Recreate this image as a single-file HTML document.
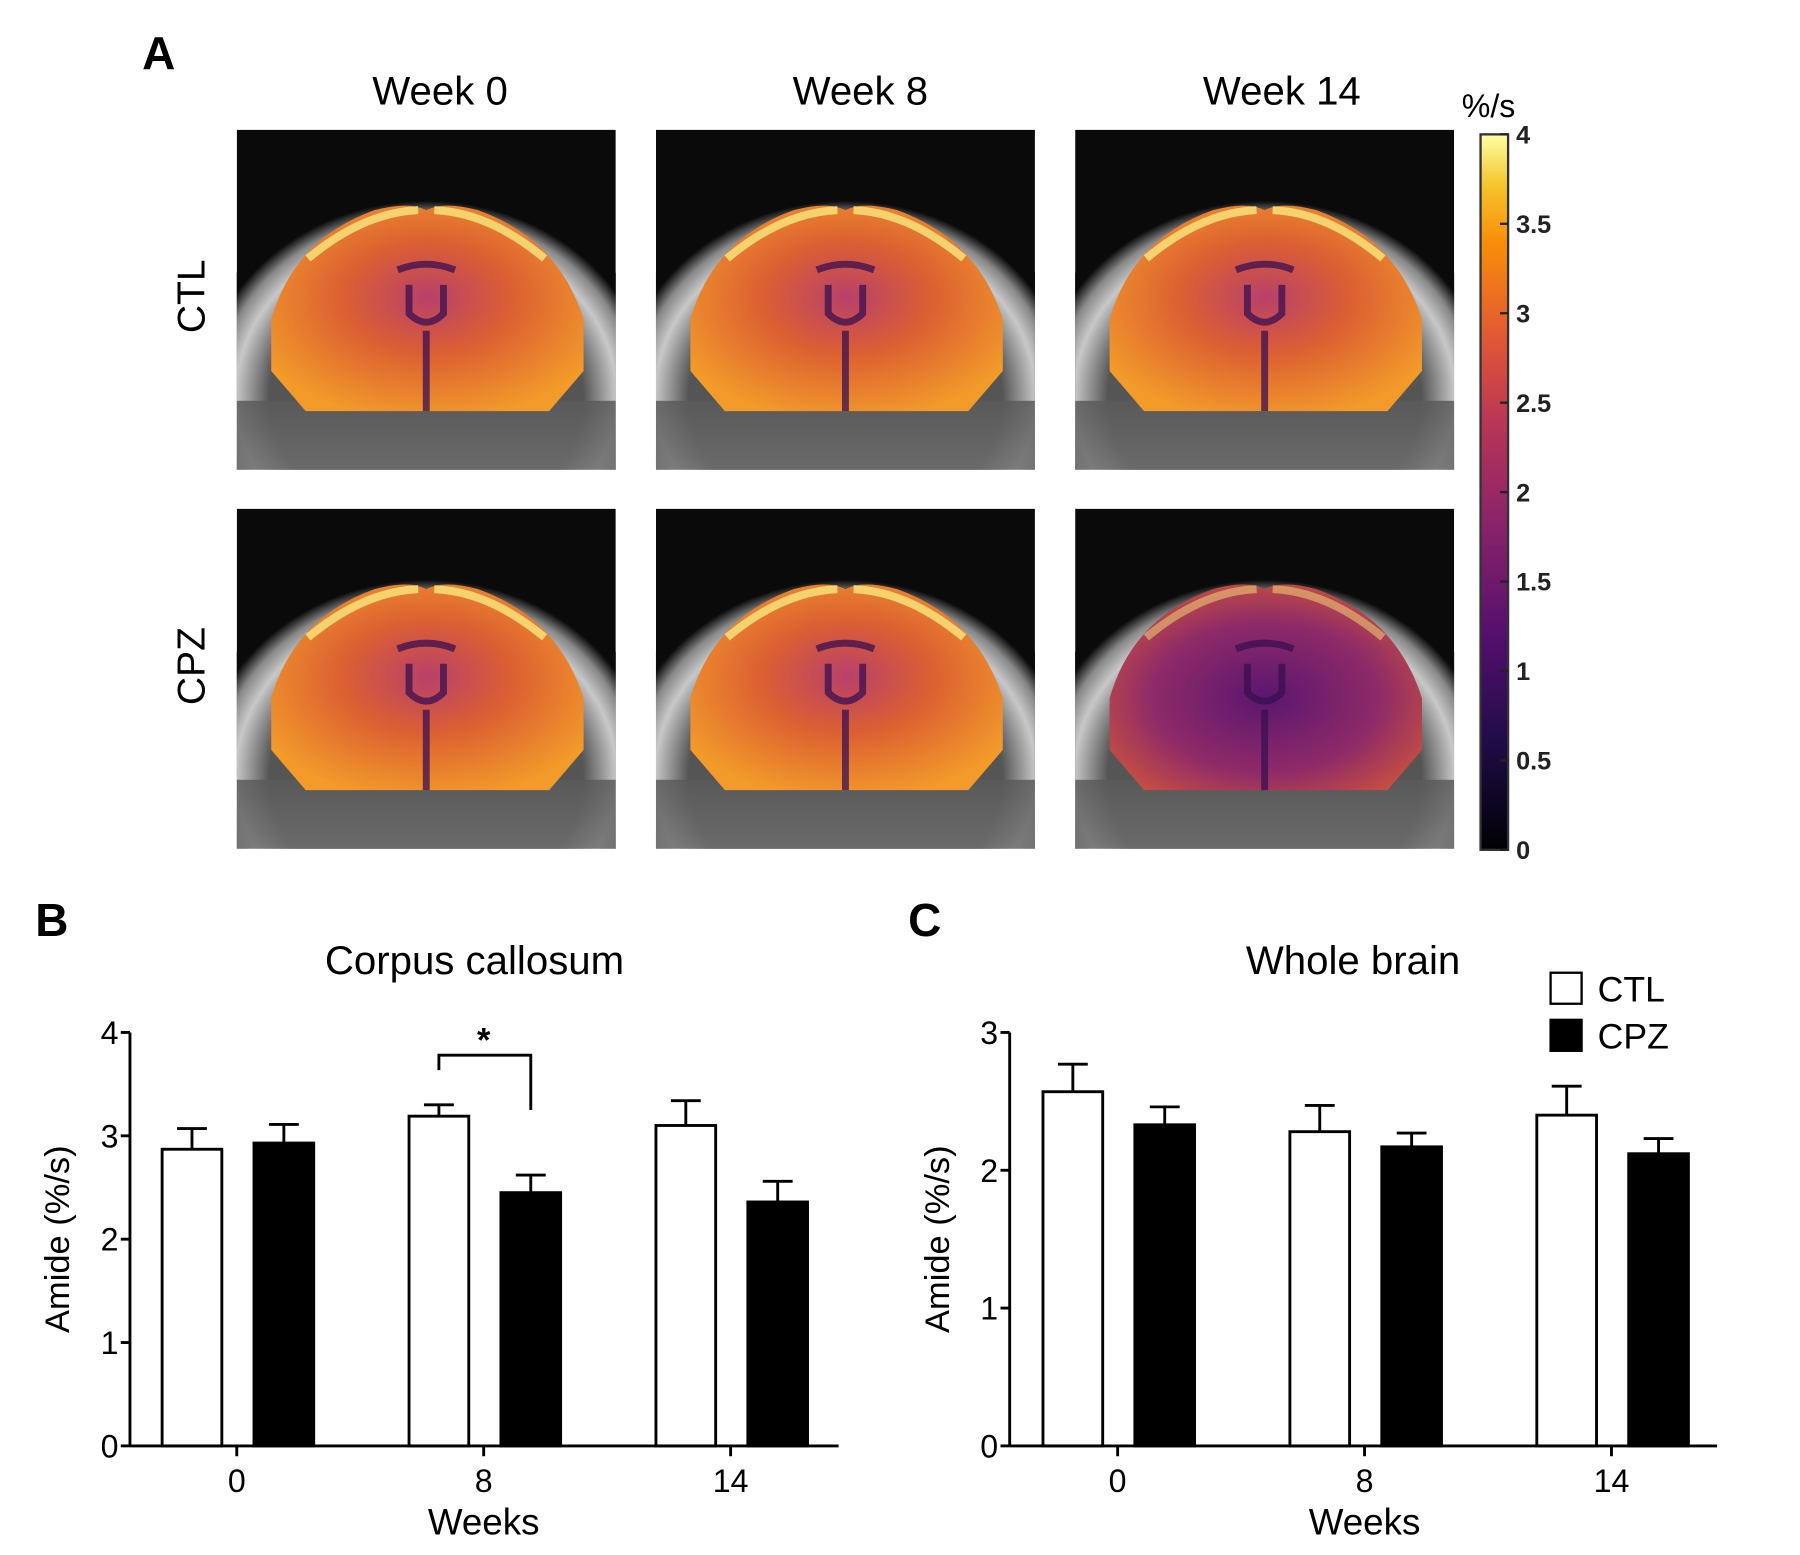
<!DOCTYPE html>
<html><head><meta charset="utf-8"><style>
html,body{margin:0;padding:0;background:#fff}
svg{display:block;font-family:"Liberation Sans",Arial,sans-serif}
</style></head><body>
<svg id="fig" width="1800" height="1555" viewBox="0 0 1567 1354" xmlns="http://www.w3.org/2000/svg">
<defs>
<linearGradient id="cbar" x1="0" y1="1" x2="0" y2="0">
<stop offset="0" stop-color="#000004"/><stop offset="0.15" stop-color="#1f0c48"/><stop offset="0.3" stop-color="#550f6d"/><stop offset="0.45" stop-color="#88226a"/><stop offset="0.6" stop-color="#ba3655"/><stop offset="0.72" stop-color="#e35933"/><stop offset="0.85" stop-color="#f98e09"/><stop offset="0.93" stop-color="#f6c52d"/><stop offset="1" stop-color="#fcffa4"/>
</linearGradient>
<radialGradient id="skull" cx="0.5" cy="0.55" r="0.5">
<stop offset="0.7" stop-color="#555"/><stop offset="0.85" stop-color="#c8c8c8"/><stop offset="0.93" stop-color="#888"/><stop offset="1" stop-color="#0a0a0a"/>
</radialGradient>
<linearGradient id="lower" x1="0" y1="0" x2="0" y2="1">
<stop offset="0" stop-color="#5a5a5a"/><stop offset="1" stop-color="#6e6e6e"/>
</linearGradient>
<radialGradient id="brainA" cx="0.5" cy="0.45" r="0.6">
<stop offset="0" stop-color="#b8406a"/><stop offset="0.45" stop-color="#dc5f32"/><stop offset="1" stop-color="#f29a2a"/>
</radialGradient>
<radialGradient id="brainB" cx="0.5" cy="0.55" r="0.6">
<stop offset="0" stop-color="#5a1670"/><stop offset="0.6" stop-color="#8e2a68"/><stop offset="1" stop-color="#c85040"/>
</radialGradient>
<clipPath id="pclip"><rect x="0" y="0" width="330" height="296"/></clipPath>
</defs>
<text x="138" y="60" font-size="40" font-weight="bold" text-anchor="middle">A</text>
<g id="panelA"></g>
<text x="383" y="91" font-size="35" text-anchor="middle">Week 0</text>
<text x="749" y="91" font-size="35" text-anchor="middle">Week 8</text>
<text x="1116" y="91" font-size="35" text-anchor="middle">Week 14</text>
<text transform="translate(178,258) rotate(-90)" font-size="34" text-anchor="middle">CTL</text>
<text transform="translate(178,580) rotate(-90)" font-size="34" text-anchor="middle">CPZ</text>
<g>
<rect x="1289" y="117" width="24" height="623" fill="url(#cbar)" stroke="#333" stroke-width="2"/>
<text x="1296" y="102" font-size="28" text-anchor="middle">%/s</text>
<g id="cbticks"></g>
</g>
<text x="45" y="815" font-size="40" font-weight="bold" text-anchor="middle">B</text>
<text x="805" y="815" font-size="40" font-weight="bold" text-anchor="middle">C</text>
<g id="chartB"></g>
<g id="chartC"></g>
<g>
<rect x="1350" y="847" width="27" height="27" fill="#fff" stroke="#000" stroke-width="2"/>
<text x="1391" y="872" font-size="31">CTL</text>
<rect x="1350" y="888" width="27" height="27" fill="#000" stroke="#000" stroke-width="2"/>
<text x="1391" y="913" font-size="31">CPZ</text>
</g>
</svg>
<script>
const NS="http://www.w3.org/2000/svg";
// colorbar
const cbTicks=[0,0.5,1,1.5,2,2.5,3,3.5,4];
// chart B data
const weeks=["0","8","14"];
const bCtl=[2.87,3.19,3.10];
const bCtlErr=[0.20,0.11,0.24];
const bCpz=[2.93,2.45,2.36];
const bCpzErr=[0.18,0.17,0.20];
const bTicks=[0,1,2,3,4];
// chart C data
const cCtl=[2.57,2.28,2.40];
const cCtlErr=[0.20,0.19,0.21];
const cCpz=[2.33,2.17,2.12];
const cCpzErr=[0.13,0.10,0.11];
const cTicks=[0,1,2,3];

function mk(tag,attrs,parent,txt){const e=document.createElementNS(NS,tag);for(const k in attrs)e.setAttribute(k,attrs[k]);if(txt!==undefined)e.textContent=txt;parent.appendChild(e);return e;}

const cb=document.getElementById('cbticks');
cbTicks.forEach(v=>{const y=740-(v/4)*623;
 const t=mk('line',{x1:1306,x2:1313,y1:y,y2:y,stroke:'#222','stroke-width':2},cb);
 
 
 const l=mk('text',{x:1320,y:y+8,'font-size':22,'font-weight':'bold',fill:'#222'},cb,String(v));
 
 
});

const pa=document.getElementById('panelA');
const cols=[206,571,936],rows=[113,443];
rows.forEach((ry,ri)=>cols.forEach((cx,ci)=>{
 const g=mk('g',{transform:`translate(${cx},${ry})`},pa);
 
 
 const c=mk('g',{'clip-path':'url(#pclip)'},g);
 mk('rect',{x:0,y:0,width:330,height:296,fill:'#0a0a0a'},c);
 mk('ellipse',{cx:165,cy:215,rx:195,ry:170,fill:'url(#skull)'},c);
 mk('rect',{x:0,y:236,width:330,height:60,fill:'url(#lower)',opacity:0.85},c);
 const dark=(ri===1&&ci===2);
 mk('path',{d:'M60,245 L30,210 L30,165 Q50,95 120,70 Q150,62 165,70 Q180,62 210,70 Q280,95 302,165 L302,210 L272,245 Z',fill:dark?'url(#brainB)':'url(#brainA)'},c);
 mk('path',{d:'M62,112 Q110,72 158,70 M172,70 Q220,72 268,112',fill:'none',stroke:'#f8e27a','stroke-width':7,opacity:dark?0.5:0.85},c);
 mk('path',{d:'M140,122 Q165,112 190,122 M150,135 L150,160 Q165,175 180,160 L180,135 M165,175 L165,245',fill:'none',stroke:'#3a0f50','stroke-width':6,opacity:0.75},c);
}));

function chart(id,opt){
 const g=document.getElementById(id);
 const x0=opt.ax, y0=1259, h=360, ymax=opt.ymax;
 const ys=v=>y0-v/ymax*h;
 const gap=215, bw=52;
 const xc=i=>opt.first+i*gap;
 let a=mk('line',{x1:x0,x2:x0,y1:y0,y2:y0-h,stroke:'#000','stroke-width':2.5},g);
 
 a=mk('line',{x1:x0,x2:opt.xend,y1:y0,y2:y0,stroke:'#000','stroke-width':2.5},g);
 
 opt.ticks.forEach(t=>{const y=ys(t);
  mk('line',{x1:x0-8,x2:x0,y1:y,y2:y,stroke:'#000','stroke-width':2.5},g);
  const l=mk('text',{x:x0-10,y:y+10,'font-size':28,'text-anchor':'end'},g,String(t));
  
  
 });
 weeks.forEach((w,i)=>{const x=xc(i);
  mk('line',{x1:x,x2:x,y1:y0,y2:y0+9,stroke:'#000','stroke-width':2.5},g);
  const l=mk('text',{x:x,y:y0+40,'font-size':28,'text-anchor':'middle'},g,w);
  
  
  [[opt.ctl,opt.ctlE,'#fff',-65],[opt.cpz,opt.cpzE,'#000',15]].forEach(([vals,errs,fill,off],s)=>{
   const bx=x+off, top=ys(vals[i]), et=ys(vals[i]+errs[i]);
   const r=mk('rect',{x:bx,y:top,width:bw,height:y0-top,fill:fill,stroke:'#000','stroke-width':2.5},g);
   
   
   const e=mk('path',{d:`M${bx+bw/2},${top} L${bx+bw/2},${et} M${bx+bw/2-13},${et} L${bx+bw/2+13},${et}`,stroke:'#000','stroke-width':2.5,fill:'none'},g);
   
   
  });
 });
 const t=mk('text',{x:opt.tx,y:848,'font-size':35,'text-anchor':'middle'},g,opt.title);
 
 const xl=mk('text',{x:xc(1),y:1336,'font-size':32,'text-anchor':'middle'},g,'Weeks');
 
 const yl=mk('text',{transform:`translate(${x0-53},1079) rotate(-90)`,'font-size':30,'text-anchor':'middle'},g,'Amide (%/s)');
 
 return {ys,xc};
}
const B=chart('chartB',{ax:113,xend:730,first:206,ymax:4,ticks:bTicks,ctl:bCtl,ctlE:bCtlErr,cpz:bCpz,cpzE:bCpzErr,title:'Corpus callosum',tx:413});
chart('chartC',{ax:879,xend:1495,first:973,ymax:3,ticks:cTicks,ctl:cCtl,ctlE:cCtlErr,cpz:cCpz,cpzE:cCpzErr,title:'Whole brain',tx:1178});
const gb=document.getElementById('chartB');
const bl=B.xc(1)-39, br=B.xc(1)+41, by=B.ys(3.78);
const br1=mk('path',{d:`M${bl},${by+13} L${bl},${by} L${br},${by} L${br},${B.ys(3.25)}`,stroke:'#000','stroke-width':2.5,fill:'none'},gb);


const st=mk('text',{x:B.xc(1),y:by-3,'font-size':30,'font-weight':'bold','text-anchor':'middle'},gb,'*');


</script>
</body></html>
